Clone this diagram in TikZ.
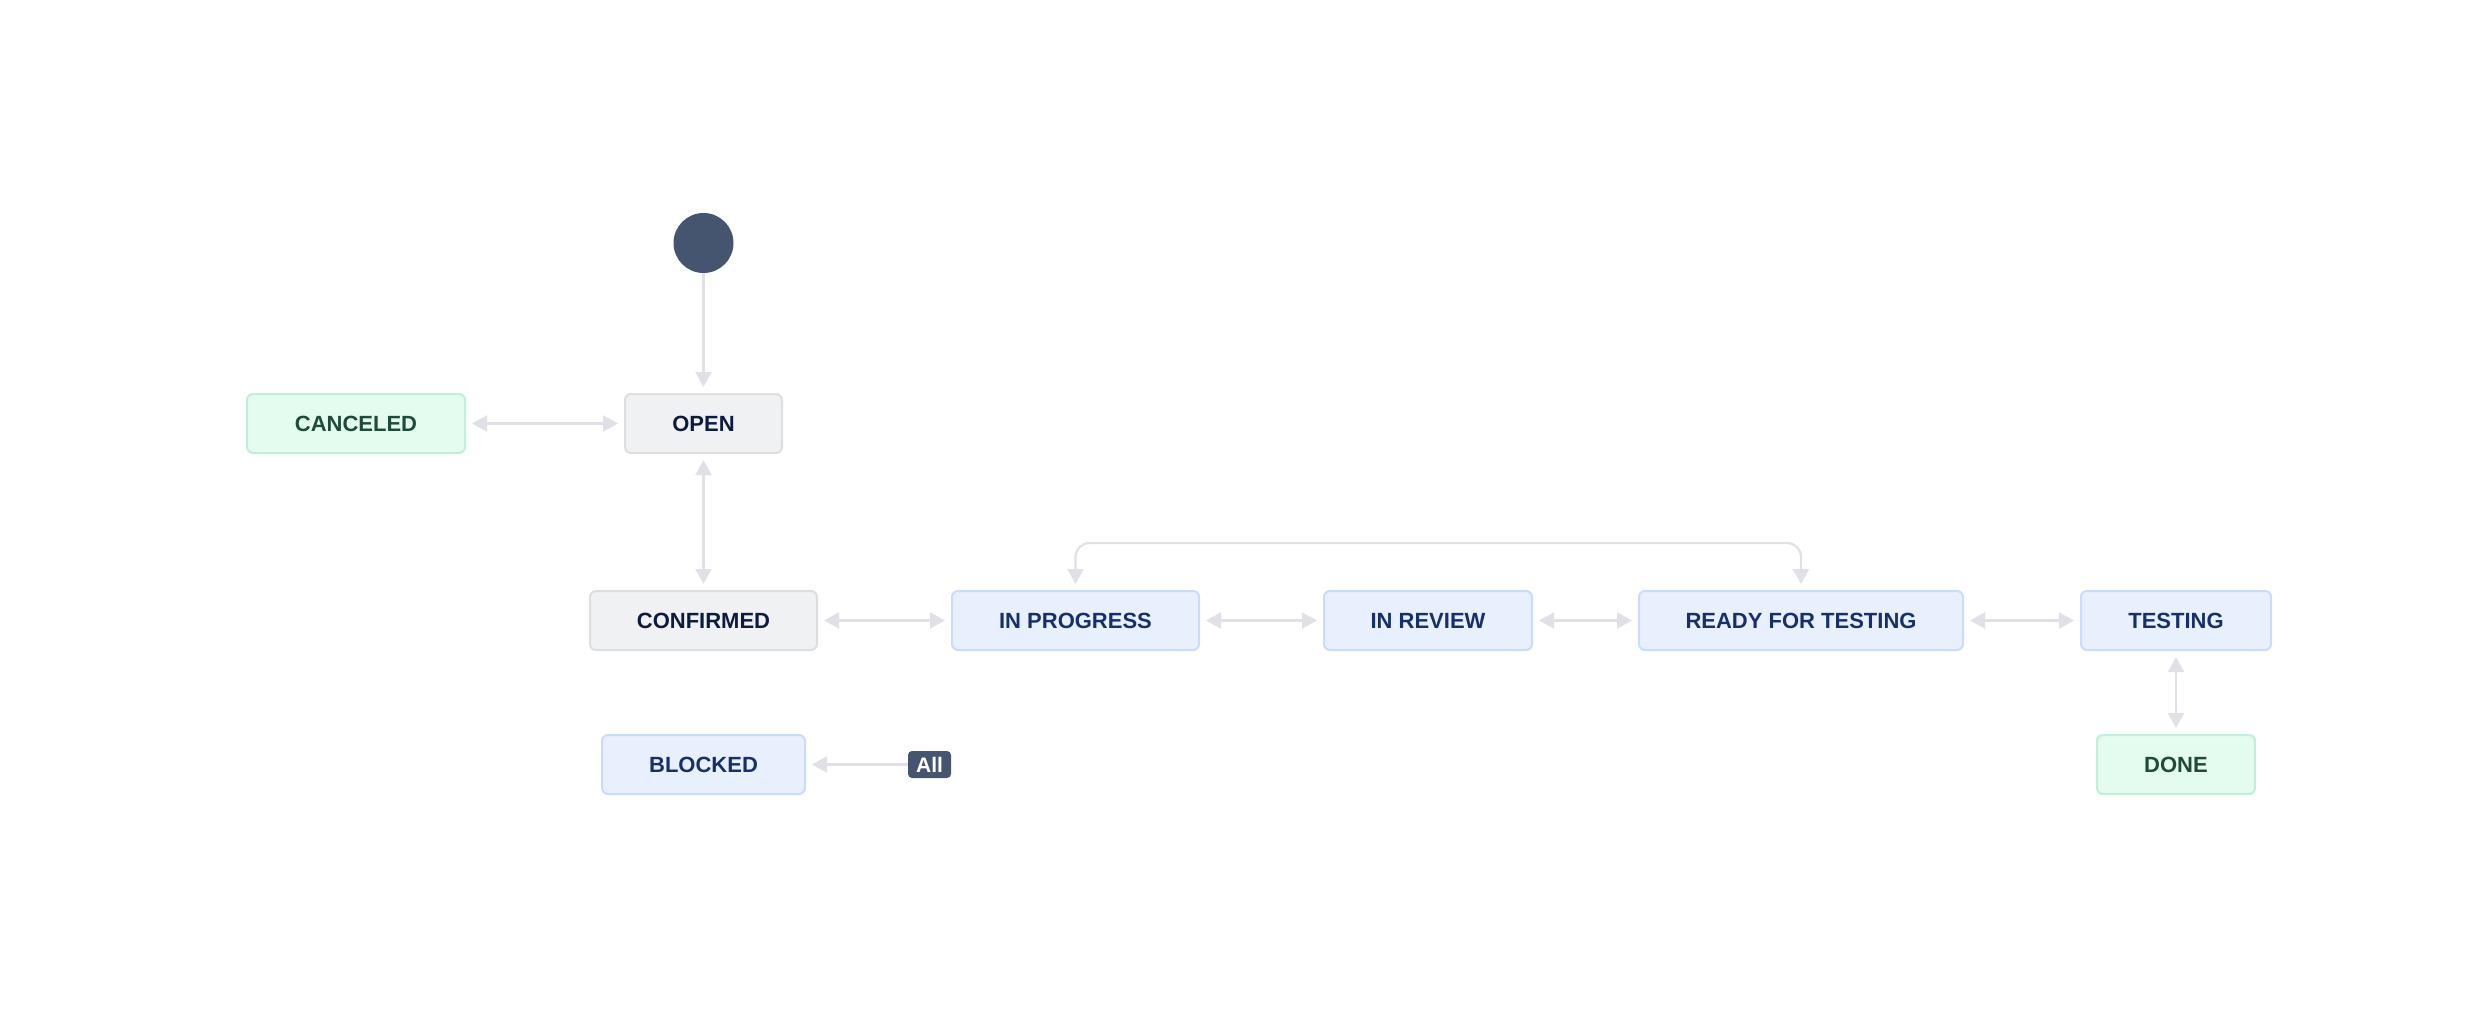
\documentclass[tikz,border=0pt]{standalone}
\usepackage{fontspec}
\setmainfont{Liberation Sans}
\usetikzlibrary{arrows.meta}
\definecolor{startc}{HTML}{455570}
\definecolor{grayfill}{HTML}{F0F1F3}
\definecolor{grayline}{HTML}{DCDEE2}
\definecolor{graytext}{HTML}{0C1B3F}
\definecolor{bluefill}{HTML}{E9F0FD}
\definecolor{blueline}{HTML}{CADCF8}
\definecolor{bluetext}{HTML}{15306B}
\definecolor{greenfill}{HTML}{E3FCEF}
\definecolor{greenline}{HTML}{C1EFD8}
\definecolor{greentext}{HTML}{1F4B3A}
\definecolor{connc}{HTML}{DFE1E6}
\tikzset{
  stbox/.style={rectangle, rounded corners=6pt, line width=2pt, minimum height=59pt,
    inner sep=0pt, font=\fontsize{22}{26}\selectfont\bfseries},
  graybox/.style={stbox, draw=grayline, fill=grayfill, text=graytext},
  bluebox/.style={stbox, draw=blueline, fill=bluefill, text=bluetext},
  greenbox/.style={stbox, draw=greenline, fill=greenfill, text=greentext},
  conn/.style={draw=connc, line width=2.2pt, shorten >=6pt, shorten <=6pt,
    arrows={-Triangle[length=15pt,width=16pt]}},
  biconn/.style={conn, arrows={Triangle[length=15pt,width=16pt]-Triangle[length=15pt,width=16pt]}},
  alltag/.style={rectangle, rounded corners=4pt, fill=startc, text=white, inner sep=0pt,
    minimum width=43pt, minimum height=27pt, font=\fontsize{21}{24}\selectfont\bfseries}
}
\begin{document}
\begin{tikzpicture}[x=1pt,y=-1pt]
\useasboundingbox (0,0) rectangle (2469,1035);
\node[circle, fill=startc, minimum size=60pt, inner sep=0pt] (start) at (703.5,243) {};
\node[greenbox, minimum width=218pt] (canceled) at (356,423.5) {CANCELED};
\node[graybox, minimum width=157pt] (open) at (703.5,423.5) {OPEN};
\node[graybox, minimum width=227pt] (confirmed) at (703.5,620.5) {CONFIRMED};
\node[bluebox, minimum width=247pt] (inprogress) at (1075.5,620.5) {IN PROGRESS};
\node[bluebox, minimum width=208pt] (inreview) at (1428,620.5) {IN REVIEW};
\node[bluebox, minimum width=324pt] (ready) at (1801,620.5) {READY FOR TESTING};
\node[bluebox, minimum width=190pt] (testing) at (2176,620.5) {TESTING};
\node[bluebox, minimum width=203pt] (blocked) at (703.5,764.5) {BLOCKED};
\node[greenbox, minimum width=158pt] (done) at (2176,764.5) {DONE};
\node[alltag] (all) at (929.5,764.5) {All};

\draw[conn, shorten <=0pt] (start) -- (open);
\draw[biconn] (canceled) -- (open);
\draw[biconn] (open) -- (confirmed);
\draw[biconn] (confirmed) -- (inprogress);
\draw[biconn] (inprogress) -- (inreview);
\draw[biconn] (inreview) -- (ready);
\draw[biconn] (ready) -- (testing);
\draw[biconn] (testing) -- (done);
\draw[biconn, rounded corners=14pt] (inprogress.north) -- ++(0,-47) -| (ready.north);
\draw[conn, shorten <=0pt] (all) -- (blocked);
\end{tikzpicture}
\end{document}
